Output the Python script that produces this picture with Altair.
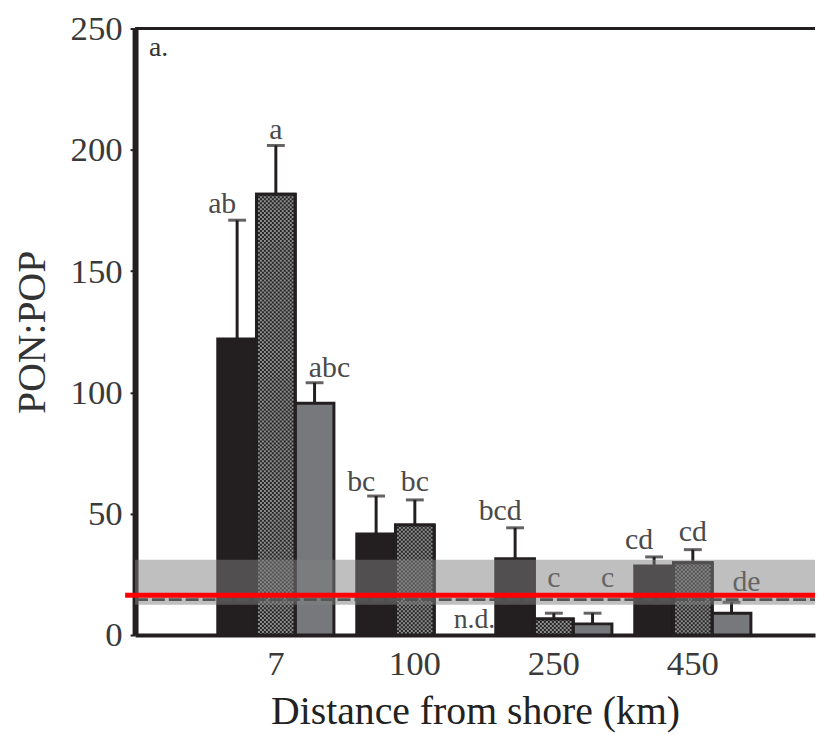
import altair as alt
import pandas as pd

# ---- data ----
distances = ["7", "100", "250", "450"]
series = ["black", "check", "gray"]
black_vals = [122.0, 41.7, 31.5, 28.5]
check_vals = [181.7, 45.4, 6.6, 29.8]
gray_vals = [95.5, None, 4.6, 9.0]
black_err = [171.0, 57.3, 44.2, 32.2]
check_err = [201.8, 55.7, 9.0, 35.2]
gray_err = [104.0, None, 9.0, 13.5]
black_letters = ["ab", "bc", "bcd", "cd"]
check_letters = ["a", "bc", "c", "cd"]
gray_letters = ["abc", "n.d.", "c", "de"]
black_letter_y = [177.6, 63.0, 51.0, 39.0]
check_letter_y = [208.0, 63.0, 23.3, 42.5]
gray_letter_y = [110.0, 6.0, 23.3, 22.0]
band_range = [12.5, 31.0]
red_level = 16.4
dashed_level = 14.6
y_ticks = [0, 50, 100, 150, 200, 250]
n_check_cols = 18

FONT = "Liberation Serif"
W, H = 685, 611
INK = "#231f20"

rows = []
for s, vals, errs, lets, ly in [
    ("black", black_vals, black_err, black_letters, black_letter_y),
    ("check", check_vals, check_err, check_letters, check_letter_y),
    ("gray", gray_vals, gray_err, gray_letters, gray_letter_y),
]:
    for d, v, e, l, y in zip(distances, vals, errs, lets, ly):
        rows.append({"dist": d, "series": s, "value": v, "err": e, "letter": l, "ly": y})
df = pd.DataFrame(rows)
bars_df = df.dropna(subset=["value"])
letters_df = df[df["letter"] != "n.d."]
nd_df = df[df["letter"] == "n.d."]

checker_df = pd.DataFrame(
    [{"dist": d, "col": c, "parity": c % 2, "top": v}
     for d, v in zip(distances, check_vals) for c in range(n_check_cols)]
)

x_scale = alt.Scale(domain=distances, paddingInner=0, paddingOuter=0.446, align=0.575)
xo_scale = alt.Scale(domain=series, paddingInner=0, paddingOuter=0.295)
y_scale = alt.Scale(domain=[0, 250], nice=False)

x_enc = alt.X(
    "dist:N", scale=x_scale, sort=distances,
    axis=alt.Axis(
        title="Distance from shore (km)", labelAngle=0, ticks=False,
        domainWidth=4, domainColor=INK, labelFont=FONT, labelFontSize=35,
        labelColor="#3a3a3a", labelPadding=12, titleFont=FONT, titleFontSize=40,
        titleFontWeight="normal", titleColor="#222", titlePadding=10,
    ),
)
y_enc = alt.Y(
    "value:Q", scale=y_scale,
    axis=alt.Axis(
        title="PON:POP", values=y_ticks, grid=False, domainWidth=6, domainColor=INK,
        tickWidth=2, tickSize=5, tickColor=INK, labelFont=FONT, labelFontSize=35,
        labelColor="#3a3a3a", labelPadding=8, titleFont=FONT, titleFontSize=40,
        titleFontWeight="normal", titleColor="#333", titlePadding=18,
    ),
)
xo_enc = alt.XOffset("series:N", scale=xo_scale, sort=series)

bars = alt.Chart(bars_df).mark_bar(stroke=INK, strokeWidth=3).encode(
    x=x_enc, y=y_enc, xOffset=xo_enc,
    color=alt.Color("series:N", scale=alt.Scale(domain=series, range=[INK, "#262626", "#77787b"]), legend=None),
)

col_scale = alt.Scale(domain=list(range(n_check_cols)), range=[52, 88], paddingInner=0, paddingOuter=0)
checker_even = alt.Chart(checker_df).transform_filter("datum.parity == 0").mark_rule(
    strokeWidth=2, strokeDash=[2, 2], strokeDashOffset=0, color="#8c8c8c"
).encode(
    x=alt.X("dist:N", scale=x_scale, sort=distances),
    xOffset=alt.XOffset("col:O", scale=col_scale),
    y=alt.Y("top:Q", scale=y_scale), y2=alt.datum(0),
)
checker_odd = alt.Chart(checker_df).transform_filter("datum.parity == 1").mark_rule(
    strokeWidth=2, strokeDash=[2, 2], strokeDashOffset=2, color="#8c8c8c"
).encode(
    x=alt.X("dist:N", scale=x_scale, sort=distances),
    xOffset=alt.XOffset("col:O", scale=col_scale),
    y=alt.Y("top:Q", scale=y_scale), y2=alt.datum(0),
)
check_outline = alt.Chart(bars_df).transform_filter("datum.series == 'check'").mark_bar(
    filled=False, stroke=INK, strokeWidth=3
).encode(x=alt.X("dist:N", scale=x_scale, sort=distances), y=alt.Y("value:Q", scale=y_scale), xOffset=xo_enc)

stems = alt.Chart(bars_df).mark_rule(color=INK, strokeWidth=3).encode(
    x=alt.X("dist:N", scale=x_scale, sort=distances), xOffset=xo_enc,
    y=alt.Y("value:Q", scale=y_scale), y2="err:Q",
)
caps = alt.Chart(bars_df).mark_tick(color=INK, orient="horizontal", size=18, thickness=3).encode(
    x=alt.X("dist:N", scale=x_scale, sort=distances), xOffset=xo_enc,
    y=alt.Y("err:Q", scale=y_scale),
)
letters = alt.Chart(letters_df).mark_text(font=FONT, fontSize=30, color="#4a4a4a", baseline="middle").encode(
    x=alt.X("dist:N", scale=x_scale, sort=distances), xOffset=xo_enc,
    y=alt.Y("ly:Q", scale=y_scale), text="letter:N",
)
nd = alt.Chart(nd_df).mark_text(font=FONT, fontSize=28, color="#4a4a4a", baseline="middle", dx=6).encode(
    x=alt.X("dist:N", scale=x_scale, sort=distances), xOffset=xo_enc,
    y=alt.Y("ly:Q", scale=y_scale), text="letter:N",
)

ref = alt.Chart(pd.DataFrame({"lo": [band_range[0]], "hi": [band_range[1]], "red": [red_level],
                              "dash": [dashed_level], "top": [250], "panel": ["a."]}))
dashed = ref.mark_rule(color="#2a2a2a", strokeWidth=3, strokeDash=[13, 4]).encode(
    y=alt.Y("dash:Q", scale=y_scale), x=alt.value(0), x2=alt.value(W))
band = ref.mark_rect(color="#808080", opacity=0.5).encode(
    y=alt.Y("lo:Q", scale=y_scale), y2="hi:Q", x=alt.value(0), x2=alt.value(W))
red = ref.mark_rule(color="#ff0000", strokeWidth=5).encode(
    y=alt.Y("red:Q", scale=y_scale), x=alt.value(-10), x2=alt.value(W))
topline = ref.mark_rule(color=INK, strokeWidth=3).encode(
    y=alt.Y("top:Q", scale=y_scale), x=alt.value(0), x2=alt.value(W))
panel = ref.mark_text(font=FONT, fontSize=28, color="#333", align="left", baseline="top").encode(
    x=alt.value(14), y=alt.value(6), text="panel:N")

chart = alt.layer(
    bars, checker_even, checker_odd, check_outline, stems, caps, letters, nd,
    dashed, band, red, topline, panel,
).resolve_scale(xOffset="independent").properties(
    width=W, height=H,
    autosize=alt.AutoSizeParams(type="none"),
    padding={"left": 128, "top": 18, "right": 2, "bottom": 96},
).configure_view(stroke=None)

chart.save("out.html", embed_options={"renderer": "svg", "actions": False})
